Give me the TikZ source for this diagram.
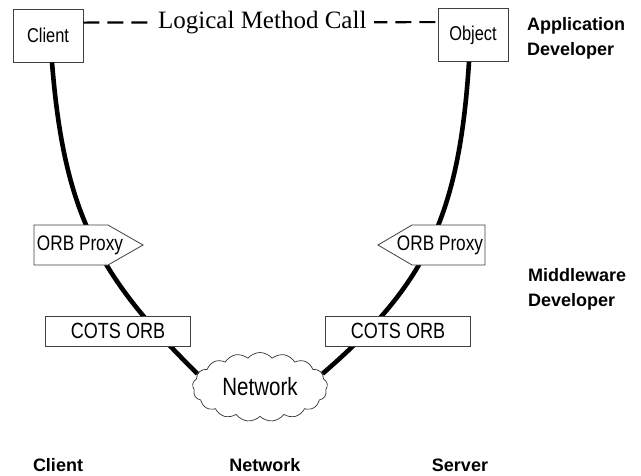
\documentclass[tikz,border=0pt]{standalone}
\usepackage{fontspec}
\setmainfont{Liberation Serif}
\newfontfamily\labelfont[FakeStretch=0.82]{Liberation Sans}
\newfontfamily\rolefont{Liberation Sans}
\usetikzlibrary{shapes.symbols}

\begin{document}
\begin{tikzpicture}[x=1pt,y=-1pt,
  wire/.style={line width=4.6pt},
  boxline/.style={draw=black!75, line width=0.8pt, fill=white},
  comp/.style={boxline, inner sep=0pt, minimum width=70, minimum height=53,
    font=\labelfont\fontsize{20}{24}\selectfont},
  orbbox/.style={boxline, inner sep=0pt, minimum width=145, minimum height=30,
    font=\labelfont\fontsize{22}{26}\selectfont},
  tag/.style={inner sep=0pt, font=\labelfont\fontsize{21}{24}\selectfont},
  role/.style={anchor=west, align=left, inner sep=0pt,
    font=\rolefont\bfseries\fontsize{18}{25}\selectfont},
  tier/.style={inner sep=0pt, font=\rolefont\bfseries\fontsize{18}{22}\selectfont},
  logical/.style={black, line width=2.2pt, dash pattern=on 16pt off 8pt},
]
\useasboundingbox (0,0) rectangle (641,475);

% application level components
\node[comp] (client) at (48,35.5) {Client};
\node[comp] (object) at (473,35) {Object};

% network cloud
\node[cloud, draw=black!80, line width=0.7pt, fill=white, cloud puffs=17,
  cloud puff arc=100, aspect=2, minimum width=135, minimum height=69, inner sep=0pt,
  font=\labelfont\fontsize{25}{28}\selectfont] (net) at (260,387) {Network};

% request paths through the middleware
\draw[wire] ([xshift=4pt]client.south) .. controls (64,212) and (97,275) .. (net.168);
\draw[wire] ([xshift=-4pt]object.south) .. controls (459,218) and (425,285) .. (net.12);

% ORB proxies
\path[boxline] (34,225) -- (108,225) -- (143,245) -- (108,265) -- (34,265) -- cycle;
\node[tag] (lproxy) at (80,245) {ORB Proxy};
\path[boxline] (485,225) -- (412,225) -- (378,245) -- (412,265) -- (485,265) -- cycle;
\node[tag] (rproxy) at (440,245) {ORB Proxy};

% ORB cores
\node[orbbox] (lorb) at (118,331) {COTS ORB};
\node[orbbox] (rorb) at (398,331) {COTS ORB};

% logical call between client and object
\draw[logical] ([yshift=-14pt]client.north east) --
  node[pos=0.505, fill=white, inner xsep=8pt, inner ysep=4pt,
    font=\fontsize{25}{29}\selectfont] (call)
  {Logical Method Call} ([yshift=-14pt]object.north west);

% roles
\node[role] (app) at (527,38) {Application\\Developer};
\node[role] (mid) at (528,289.5) {Middleware\\Developer};

% tiers
\node[tier] (tclient) at (58,465) {Client};
\node[tier] (tnet) at (265,465) {Network};
\node[tier] (tserver) at (460,465) {Server};
\end{tikzpicture}
\end{document}
